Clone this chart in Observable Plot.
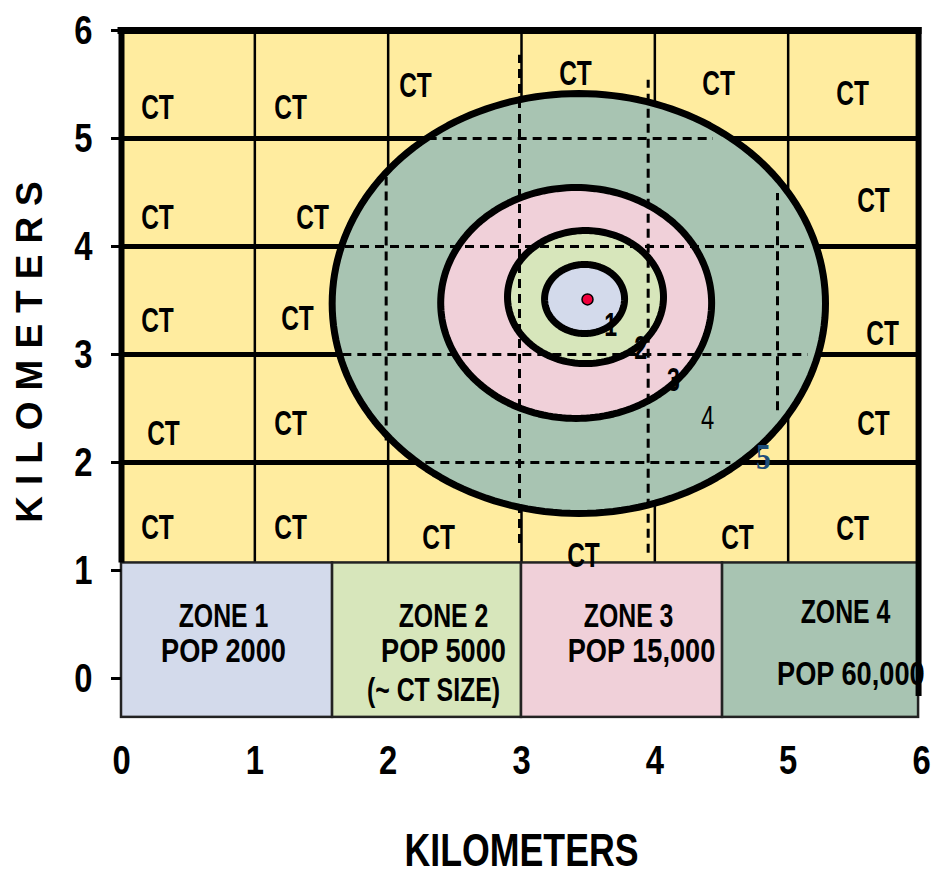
<!DOCTYPE html>
<html><head><meta charset="utf-8">
<script src="https://cdn.jsdelivr.net/npm/d3@7"></script>
<script src="https://cdn.jsdelivr.net/npm/@observablehq/plot@0.6"></script>
<style>
body{margin:0;background:#fff;}
</style></head><body><div id="chart"></div>
<script>
// ---- data (kilometres) ----
const xTicks = [0, 1, 2, 3, 4, 5, 6];
const yTicks = [0, 1, 2, 3, 4, 5, 6];
const gridX = [1, 2, 3, 4, 5];
const gridY = [2, 3, 4, 5];

const ctX = [0.27, 1.268, 2.205, 3.405, 4.478, 5.483, 0.27, 1.433, 5.64, 0.27, 1.32, 5.708, 0.315, 1.268, 5.64, 0.27, 1.268, 2.378, 3.465, 4.62, 5.483];
const ctY = [5.287, 5.287, 5.49, 5.60, 5.51, 5.417, 4.27, 4.27, 4.426, 3.315, 3.333, 3.194, 2.269, 2.361, 2.361, 1.398, 1.398, 1.306, 1.139, 1.306, 1.389];

const ringNames = ["4", "3", "2", "1"];
const ringCx = [3.43, 3.41, 3.48, 3.473];
const ringCy = [3.472, 3.477, 3.532, 3.514];
const ringRx = [1.85, 1.016, 0.585, 0.30];
const ringRy = [1.944, 1.069, 0.616, 0.32];
const centerX = [3.495];
const centerY = [3.51];

const ringLabels = ["1", "2", "3", "4", "5"];
const ringLabelX = [3.668, 3.893, 4.14, 4.395, 4.815];
const ringLabelY = [3.27, 3.056, 2.759, 2.407, 2.046];

const dashHY = [5, 4, 3, 2];
const dashHX1 = [2.30, 1.68, 1.66, 2.17];
const dashHX2 = [4.44, 5.13, 5.15, 4.57];
const dashVX = [1.985, 2.985, 3.95, 4.92];
const dashVY1 = [2.2, 1.25, 1.16, 2.48];
const dashVY2 = [4.64, 5.77, 5.54, 4.49];

const zoneNames = ["ZONE 1", "ZONE 2", "ZONE 3", "ZONE 4"];
const zoneX1 = [0, 1.583, 3.0, 4.508];
const zoneX2 = [1.583, 3.0, 4.508, 5.978];
const zoneTop = 1.07, zoneBottom = -0.36;
const mapRight = 5.978, mapTop = 6;

const zoneHeads = ["ZONE 1", "ZONE 2", "(~ CT SIZE)", "ZONE 3", "ZONE 4"];
const zoneHeadX = [0.765, 2.415, 2.34, 3.803, 5.43];
const zoneHeadY = [0.574, 0.574, -0.111, 0.574, 0.611];
const zonePops = ["POP 2000", "POP 5000", "POP 15,000", "POP 60,000"];
const zonePopX = [0.765, 2.415, 3.90, 5.47];
const zonePopY = [0.25, 0.25, 0.25, 0.037];

// ---- styles ----
const YELLOW = "#FFEC9F";
const zoneColors = {"1": "#D3DAEB", "2": "#D7E6BB", "3": "#F0D0D9", "4": "#A8C4B2"};
const SANS = '"Liberation Sans", Arial, sans-serif';
const SERIF = '"Liberation Serif", "DejaVu Serif", serif';

// ring outlines (ellipses) in data units
const ringOutlines = ringNames.map((name, i) =>
  d3.range(0, 360, 2).map(a => ({
    x: ringCx[i] + ringRx[i] * Math.cos(a * Math.PI / 180),
    y: ringCy[i] + ringRy[i] * Math.sin(a * Math.PI / 180)
  })));

const idx = n => d3.range(n);
const dash = {stroke: "black", strokeWidth: 3, strokeDasharray: "9,6"};

const chart = Plot.plot({
  width: 931, height: 873,
  marginLeft: 121, marginRight: 10, marginTop: 30, marginBottom: 195,
  x: {domain: [0, 6], axis: null},
  y: {domain: [0, 6], axis: null},
  style: {background: "white", overflow: "visible", fontFamily: SANS},
  marks: [
    Plot.rect([0], {x1: 0, x2: mapRight, y1: zoneTop, y2: mapTop, fill: YELLOW}),
    Plot.ruleX(gridX, {y1: zoneTop, y2: mapTop, stroke: "black", strokeWidth: 2.5}),
    Plot.ruleY(gridY, {x1: 0, x2: mapRight, stroke: "black", strokeWidth: 5}),
    Plot.rect(idx(4), {x1: i => zoneX1[i], x2: i => zoneX2[i], y1: zoneBottom, y2: zoneTop,
      fill: i => zoneColors[String(i + 1)], stroke: "#222", strokeWidth: 2.5}),
    ...ringOutlines.map((pts, i) => Plot.line(pts, {x: "x", y: "y", curve: "linear-closed",
      fill: zoneColors[ringNames[i]], stroke: "black", strokeWidth: 7})),
    Plot.ruleY(idx(4), {y: i => dashHY[i], x1: i => dashHX1[i], x2: i => dashHX2[i], ...dash}),
    Plot.ruleX(idx(4), {x: i => dashVX[i], y1: i => dashVY1[i], y2: i => dashVY2[i], ...dash}),
    Plot.dot(idx(1), {x: i => centerX[i], y: i => centerY[i], r: 5.5, fill: "#F0003C", stroke: "black", strokeWidth: 1.5}),
    Plot.text(idx(ctX.length), {x: i => ctX[i], y: i => ctY[i], text: () => "CT",
      fontSize: 35, fontWeight: "bold", fill: "black", ariaDescription: "ct"}),
    Plot.text(idx(3), {x: i => ringLabelX[i], y: i => ringLabelY[i], text: i => ringLabels[i],
      fontSize: 33, fontWeight: "bold", fill: "black", ariaDescription: "ring"}),
    Plot.text(idx(1), {x: () => ringLabelX[3], y: () => ringLabelY[3], text: () => ringLabels[3],
      fontSize: 34, fill: "black", ariaDescription: "ring"}),
    Plot.text(idx(1), {x: () => ringLabelX[4], y: () => ringLabelY[4], text: () => ringLabels[4],
      fontSize: 35, fontWeight: "bold", fontFamily: SERIF, fill: "#1F4E79", ariaDescription: "ring5"}),
    Plot.text(idx(zoneHeads.length), {x: i => zoneHeadX[i], y: i => zoneHeadY[i], text: i => zoneHeads[i],
      fontSize: 34, fontWeight: "bold", fill: "black", ariaDescription: "zone"}),
    Plot.text(idx(zonePops.length), {x: i => zonePopX[i], y: i => zonePopY[i], text: i => zonePops[i],
      fontSize: 34, fontWeight: "bold", fill: "black", ariaDescription: "pop"}),
    Plot.ruleY([mapTop], {x1: 0, x2: mapRight, stroke: "black", strokeWidth: 7, strokeLinecap: "square"}),
    Plot.ruleX([0], {y1: zoneTop, y2: mapTop, stroke: "black", strokeWidth: 6}),
    Plot.ruleX([mapRight], {y1: -0.14, y2: mapTop, stroke: "black", strokeWidth: 6, strokeLinecap: "square"}),
    Plot.axisY({ticks: yTicks, tickFormat: "d", anchor: "left", tickSize: 10, tickPadding: 19, strokeWidth: 3,
      fontSize: 41, fontWeight: "bold", label: null}),
    Plot.axisX({ticks: xTicks, tickFormat: "d", anchor: "bottom", tickSize: 0, tickPadding: 66,
      fontSize: 41, fontWeight: "bold", label: null}),
    Plot.text(["KILOMETERS"], {frameAnchor: "bottom", lineAnchor: "middle", dy: 172, fontSize: 47,
      fontWeight: "bold", fill: "black", ariaDescription: "xtitle"}),
    Plot.text(["KILOMETERS"], {frameAnchor: "left", textAnchor: "middle", lineAnchor: "middle", rotate: -90,
      dx: -91, dy: -8, fontSize: 37, fontWeight: "bold", fill: "black", ariaDescription: "ytitle"})
  ]
});

// narrow (condensed) lettering like the original: horizontal squeeze about each text's anchor
function condense(t, s) {
  const x = parseFloat(t.getAttribute("x")) || 0;
  const tr = t.getAttribute("transform") || "";
  t.setAttribute("transform", `${tr} translate(${x},0) scale(${s},1) translate(${-x},0)`);
}
const condenseBy = {ct: 0.7, ring: 0.7, ring5: 0.85, zone: 0.73, pop: 0.8, xtitle: 0.76};
for (const [desc, s] of Object.entries(condenseBy)) {
  chart.querySelectorAll(`g[aria-description="${desc}"] text`).forEach(t => condense(t, s));
}
chart.querySelectorAll('g[aria-label*="axis"] text').forEach(t => condense(t, 0.8));
chart.querySelectorAll('g[aria-description="ytitle"] text').forEach(t => t.setAttribute("letter-spacing", "11"));
document.getElementById("chart").appendChild(chart);
</script></body></html>
